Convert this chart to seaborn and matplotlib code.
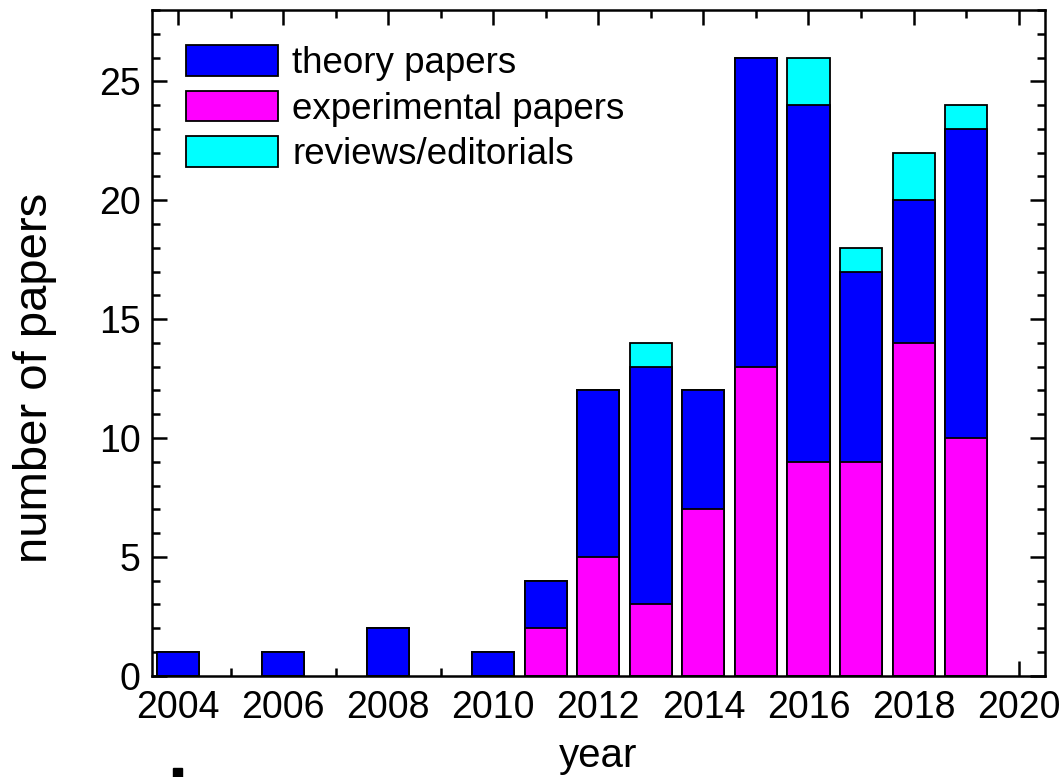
import matplotlib
matplotlib.use("Agg")
import matplotlib.pyplot as plt
from matplotlib.patches import Patch, Rectangle
from matplotlib.ticker import MultipleLocator, FormatStrFormatter
import pandas as pd
import seaborn as sns

# Publications per year, split by type
years = [2004, 2006, 2008, 2010, 2011, 2012, 2013, 2014, 2015, 2016, 2017, 2018, 2019]
theory = [1, 1, 2, 1, 2, 7, 10, 5, 13, 15, 8, 6, 13]
experimental = [0, 0, 0, 0, 2, 5, 3, 7, 13, 9, 9, 14, 10]
reviews = [0, 0, 0, 0, 0, 0, 1, 0, 0, 2, 1, 2, 1]

series_names = ["theory papers", "experimental papers", "reviews/editorials"]
series_colors = ["#0000FF", "#FF00FF", "#00FFFF"]

df = pd.DataFrame({"year": years, "theory": theory,
                   "experimental": experimental, "reviews": reviews})
# cumulative stack tops: experimental at the bottom, theory above, reviews on top
df["exp_top"] = df["experimental"]
df["theory_top"] = df["experimental"] + df["theory"]
df["review_top"] = df["theory_top"] + df["reviews"]

sns.set_theme(style="ticks")
plt.rcParams["font.family"] = ["Liberation Sans", "DejaVu Sans"]
plt.rcParams["text.color"] = "black"

fig = plt.figure(figsize=(10.63, 7.77), dpi=100)
ax = fig.add_axes([0.1427, 0.1304, 0.8403, 0.8566])

bar_kw = dict(x="year", native_scale=True, width=0.8, edgecolor="black",
              linewidth=1.3, errorbar=None, ax=ax, zorder=2)
sns.barplot(data=df, y="review_top", color=series_colors[2], saturation=1, **bar_kw)
sns.barplot(data=df, y="theory_top", color=series_colors[0], saturation=1, **bar_kw)
sns.barplot(data=df, y="exp_top", color=series_colors[1], saturation=1, **bar_kw)

ax.set_xlim(2003.5, 2020.5)
ax.set_ylim(0, 28)
ax.xaxis.set_major_locator(MultipleLocator(2))
ax.xaxis.set_minor_locator(MultipleLocator(1))
ax.yaxis.set_major_locator(MultipleLocator(5))
ax.yaxis.set_minor_locator(MultipleLocator(1))
ax.xaxis.set_major_formatter(FormatStrFormatter("%d"))

ax.tick_params(which="both", direction="in", top=True, right=True,
               width=1.8, color="black", labelsize=27, labelcolor="black")
ax.tick_params(which="major", length=10.8)
ax.tick_params(which="minor", length=5.8)
ax.tick_params(axis="x", which="major", pad=10)
ax.tick_params(axis="y", which="major", pad=8)

for side in ["left", "right", "top", "bottom"]:
    ax.spines[side].set_visible(True)
    ax.spines[side].set_linewidth(1.8)
    ax.spines[side].set_color("black")

ax.set_xlabel("year", fontsize=29, color="black", labelpad=8)
ax.set_ylabel("number of papers", fontsize=34, color="black")
ax.yaxis.set_label_coords(-0.106, 0.448)

handles = [Patch(facecolor=c, edgecolor="black", linewidth=1.3) for c in series_colors]
leg = ax.legend(handles, series_names, loc="upper left", bbox_to_anchor=(0.038, 0.947),
                frameon=False, fontsize=26.5, handlelength=2.5, handleheight=0.9,
                handletextpad=0.4, labelspacing=0.26, borderaxespad=0, borderpad=0)
for t in leg.get_texts():
    t.set_color("black")

# small black mark at the bottom edge
fig.add_artist(Rectangle((173 / 1063, 0), 9 / 1063, 9 / 777,
                         transform=fig.transFigure, color="black"))

fig.savefig("out.png", dpi=100)
